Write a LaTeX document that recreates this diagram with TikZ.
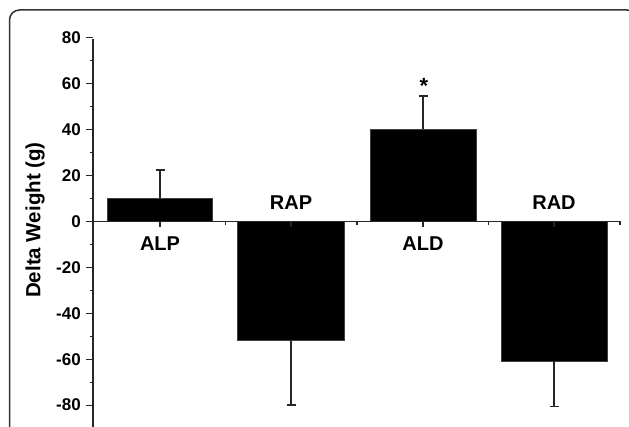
\documentclass[tikz,border=0pt]{standalone}
\usepackage{fontspec}
\setmainfont{Liberation Sans}
\begin{document}
\begin{tikzpicture}[x=1pt,y=-1pt,
  barbox/.style={fill=black,draw=black!75,line width=0.6pt},
  errline/.style={line width=1.2pt,draw=black!85},
  catlab/.style={font=\fontsize{20}{22}\selectfont\bfseries, inner sep=0pt},
  ticklab/.style={font=\fontsize{17}{19}\selectfont\bfseries, anchor=east, inner sep=0pt},
  axisline/.style={line width=1.2pt,draw=black!85}]
\useasboundingbox (0,0) rectangle (629,427);
\begin{scope}
\clip (0,0) rectangle (629,427);
\draw[line width=1.5pt, draw=black!80, rounded corners=10pt] (9.5,10) rectangle (637,460);
\end{scope}
% y axis
\draw[axisline] (93,39) -- (93,427);
\foreach \v in {80,60,40,20,0,-20,-40,-60,-80}{
  \pgfmathsetmacro{\yy}{221.5-\v*2.295}
  \draw[axisline] (86,\yy) -- (93,\yy);
  \node[ticklab] (t\v) at (81,\yy) {\v};
}
\foreach \v in {70,50,30,10,-10,-30,-50,-70}{
  \pgfmathsetmacro{\yy}{221.5-\v*2.295}
  \draw[axisline] (89.5,\yy) -- (93,\yy);
}
\node[font=\fontsize{20.5}{22}\selectfont\bfseries, rotate=90, inner sep=0pt] (ytitle) at (35,220) {Delta Weight (g)};
% bars
\draw[barbox] (107,221.5) rectangle (212.5,198.5);
\draw[barbox] (237.5,221.5) rectangle (344,340.7);
\draw[barbox] (370,221.5) rectangle (476,129);
\draw[barbox] (501,221.5) rectangle (607.5,361);
% zero line and ticks
\draw[axisline] (93,221.5) -- (620,221.5);
\foreach \x in {160,291,423,554}{
  \draw[axisline] (\x,221.5) -- (\x,227.5);
}
\foreach \x in {225.5,357,488.5,620}{
  \draw[axisline] (\x,221.5) -- (\x,225.5);
}
% error bars
\draw[errline] (160,198.5) -- (160,170) (156,170) -- (164.5,170);
\draw[errline] (291,340.7) -- (291,405) (287,405) -- (295.5,405);
\draw[errline] (423,129) -- (423,96) (419,96) -- (427.5,96);
\draw[errline] (554,361) -- (554,406.3) (550,406.3) -- (558.5,406.3);
% labels
\node[catlab] (alp) at (160,243.5) {ALP};
\node[catlab] (rap) at (291,202.5) {RAP};
\node[catlab] (ald) at (423,243.5) {ALD};
\node[catlab] (rad) at (554,202.5) {RAD};
\node[font=\fontsize{22}{24}\selectfont\bfseries, inner sep=0pt] (star) at (424,86) {*};
\end{tikzpicture}
\end{document}
